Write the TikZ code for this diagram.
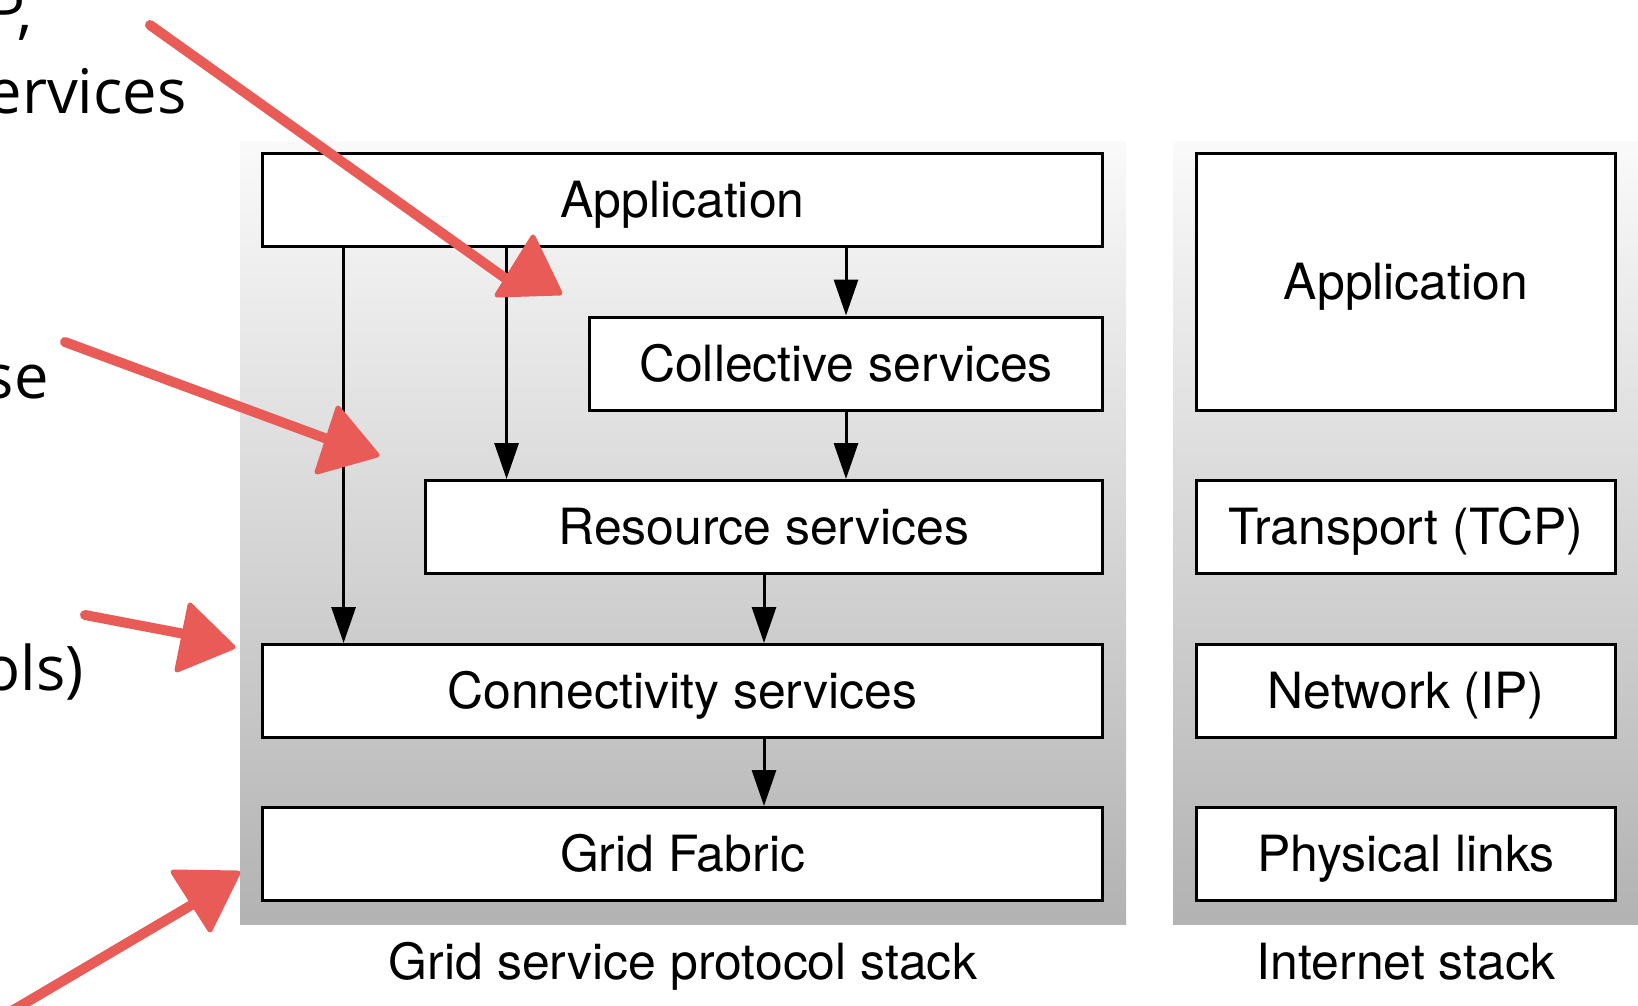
\documentclass[tikz,border=0pt]{standalone}
\usepackage{fontspec}
\setmainfont{TeX Gyre Heros}
\newfontfamily\slidefont{Open Sans}
\usetikzlibrary{arrows.meta,calc}
\definecolor{stylo}{RGB}{233,91,86}

\begin{document}
\begin{tikzpicture}[x=0.02cm,y=-0.02cm,
  couche/.style={draw,fill=white,line width=0.06cm,inner sep=0pt,minimum height=1.86cm,text height=0.94cm,text depth=0.24cm,font=\fontsize{28.4}{34}\selectfont},
  fleche/.style={line width=0.06cm,-{Triangle[length=0.72cm,width=0.48cm]}},
  panneau/.style={top color=white!98!black,bottom color=black!30,draw=none},
  legende/.style={anchor=base,inner sep=0pt,font=\fontsize{28.4}{34}\selectfont},
  annot/.style={anchor=base east,inner sep=0pt,font=\slidefont\fontsize{35}{42}\selectfont},
  rouge/.style={draw=stylo,fill=stylo,line cap=round,line join=round}]
  % Cadre de l'image
  \useasboundingbox (0,0) rectangle (1638,1005);
  \clip (0,0) rectangle (1638,1005);

  % Fonds dégradés
  \fill[panneau] (240,141) rectangle (1126,924);
  \fill[panneau] (1173,141) rectangle (1660,924);

  % Pile Grid
  \node[couche,minimum width=16.82cm] (app) at (682.5,200) {Application};
  \node[couche,minimum width=10.28cm] (coll) at (846,363.5) {Collective services};
  \node[couche,minimum width=13.56cm] (res) at (764,527) {Resource services};
  \node[couche,minimum width=16.82cm] (conn) at (682.5,691) {Connectivity services};
  \node[couche,minimum width=16.82cm] (fab) at (682.5,854) {Grid Fabric};

  % Pile Internet
  \node[couche,minimum width=8.4cm,minimum height=5.14cm] (iapp) at (1406,282) {Application};
  \node[couche,minimum width=8.4cm] (tcp) at (1406,527) {Transport (TCP)};
  \node[couche,minimum width=8.4cm] (ip) at (1406,691) {Network (IP)};
  \node[couche,minimum width=8.4cm] (phys) at (1406,854) {Physical links};

  % Légendes
  \node[legende] (lgrid) at (683,979) {Grid service protocol stack};
  \node[legende] (linet) at (1406,979) {Internet stack};

  % Flèches entre couches
  \coordinate (resin) at ($(res.north west)+(83,0)$);
  \coordinate (connin) at ($(conn.north west)+(83,0)$);
  \draw[fleche] (coll.north |- app.south) -- (coll.north);
  \draw[fleche] (coll.south) -- (coll.south |- res.north);
  \draw[fleche] (resin |- app.south) -- (resin);
  \draw[fleche] (connin |- app.south) -- (connin);
  \draw[fleche] (res.south) -- (res.south |- conn.north);
  \draw[fleche] (res.south |- conn.south) -- (res.south |- fab.north);

  % Texte coupé de la diapo
  \node[annot] (t1) at (33,32) {P,};
  \node[annot] (t2) at (187,113) {ervices};
  \node[annot] (t3) at (49,398) {se};
  \node[annot] (t4) at (84,690) {ols)};

  % Flèches rouges à main levée
  \draw[rouge,line width=0.2cm] (150,25) -- (512,283);
  \filldraw[rouge,line width=0.1cm] (533,237) -- (497,295) -- (560,293) -- cycle;
  \draw[rouge,line width=0.2cm] (65,342) -- (330,440);
  \filldraw[rouge,line width=0.1cm] (338,408) -- (317,472) -- (377,455) -- cycle;
  \draw[rouge,line width=0.2cm] (85,615) -- (190,635);
  \filldraw[rouge,line width=0.1cm] (190,605) -- (177,670) -- (233,647) -- cycle;
  \draw[rouge,line width=0.2cm] (10,1012) -- (200,900);
  \filldraw[rouge,line width=0.1cm] (173,872) -- (238,873) -- (210,930) -- cycle;
\end{tikzpicture}
\end{document}
